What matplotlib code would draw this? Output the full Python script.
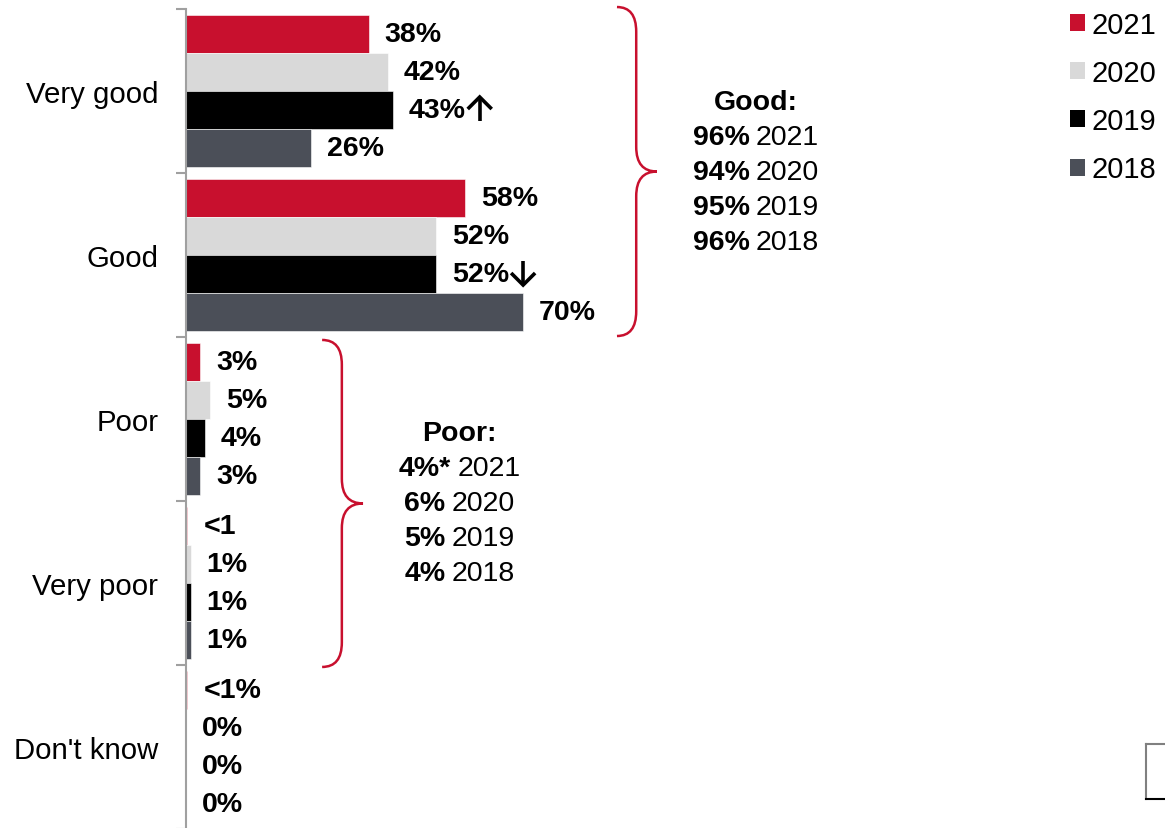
import matplotlib
matplotlib.use("Agg")
import matplotlib.pyplot as plt
from matplotlib.patches import Patch, PathPatch
from matplotlib.path import Path
from matplotlib.lines import Line2D
from matplotlib.transforms import IdentityTransform
from matplotlib.offsetbox import TextArea, HPacker, AnnotationBbox
import numpy as np

plt.rcParams['font.family'] = ['Liberation Sans', 'DejaVu Sans']

categories = ["Very good", "Good", "Poor", "Very poor", "Don't know"]
years = ["2021", "2020", "2019", "2018"]
colors = ["#C8102E", "#D9D9D9", "#000000", "#4B4F58"]

v2021 = [38, 58, 3, 0.3, 0.3]
v2020 = [42, 52, 5, 1, 0]
v2019 = [43, 52, 4, 1, 0]
v2018 = [26, 70, 3, 1, 0]

l2021 = ["38%", "58%", "3%", "<1", "<1%"]
l2020 = ["42%", "52%", "5%", "1%", "0%"]
l2019 = ["43%", "52%", "4%", "1%", "0%"]
l2018 = ["26%", "70%", "3%", "1%", "0%"]
# significance arrows for 2019 (+1 up, -1 down, 0 none)
a2019 = [1, -1, 0, 0, 0]

good_title = "Good:"
good_vals = ["96%", "94%", "95%", "96%"]
poor_title = "Poor:"
poor_vals = ["4%*", "6%", "5%", "4%"]

W, H = 1165, 829
fig = plt.figure(figsize=(W / 100, H / 100), dpi=100)
ax = fig.add_axes([186 / W, -1 / H, (W - 186) / W, 820 / H])

series = [v2021, v2020, v2019, v2018]
labels = [l2021, l2020, l2019, l2018]
arrows = [[0] * 5, [0] * 5, a2019, [0] * 5]
bar_h = 0.232
y = np.arange(len(categories))
FS = 20.5
arrow_texts = []
for j, (vals, labs, arr, col) in enumerate(zip(series, labels, arrows, colors)):
    yy = y + (j - 1.5) * bar_h
    ax.barh(yy, vals, height=bar_h, color=col, edgecolor='white', linewidth=0.4, label=years[j])
    for yi, v, lab, a in zip(yy, vals, labs, arr):
        t = ax.text(v + 3.3, yi, lab, ha='left', va='center', fontsize=FS, fontweight='bold')
        if a:
            arrow_texts.append((t, a))

ax.set_xlim(0, (W - 186) / 4.81)
ax.set_ylim(len(categories) - 0.5, -0.5)

for s in ['top', 'right', 'bottom']:
    ax.spines[s].set_visible(False)
ax.spines['left'].set_color('#A0A0A0')
ax.spines['left'].set_linewidth(1.5)
ax.set_xticks([])
ax.set_yticks(np.arange(len(categories) + 1) - 0.5)
ax.set_yticklabels([])
ax.tick_params(axis='y', which='major', length=7, width=1.5, color='#A0A0A0', direction='out')
ax.set_yticks(y, minor=True)
ax.set_yticklabels(categories, minor=True, fontsize=21.2)
ax.tick_params(axis='y', which='minor', length=0, pad=20)


def brace(x_tip, x_line, x_mid, y_top, y_bot, r):
    ym = (y_top + y_bot) / 2
    verts = [(x_tip, y_top), (x_line, y_top), (x_line, y_top + r),
             (x_line, ym - r),
             (x_line, ym), (x_mid, ym),
             (x_line, ym), (x_line, ym + r),
             (x_line, y_bot - r),
             (x_line, y_bot), (x_tip, y_bot)]
    codes = [Path.MOVETO, Path.CURVE3, Path.CURVE3,
             Path.LINETO,
             Path.CURVE3, Path.CURVE3,
             Path.CURVE3, Path.CURVE3,
             Path.LINETO,
             Path.CURVE3, Path.CURVE3]
    ax.add_patch(PathPatch(Path(verts, codes), fill=False, edgecolor='#C8102E', lw=1.8, clip_on=False))


brace(89.6, 93.6, 97.9, -0.512, 1.494, 0.15)
brace(28.3, 32.4, 36.8, 1.518, 3.512, 0.15)

step = 35 / 164


def block(title, vals, xc, y0):
    ax.text(xc, y0, title, ha='center', va='center', fontsize=FS, fontweight='bold')
    for k, (v, yr) in enumerate(zip(vals, years)):
        yy = y0 + (k + 1) * step
        pack = HPacker(children=[TextArea(v, textprops=dict(fontsize=FS, fontweight='bold')),
                                 TextArea(yr, textprops=dict(fontsize=FS))],
                       align='baseline', pad=0, sep=4.5)
        ab = AnnotationBbox(pack, (xc, yy), xycoords='data', box_alignment=(0.5, 0.5),
                            frameon=False, pad=0, annotation_clip=False)
        ax.add_artist(ab)


block(good_title, good_vals, 118.5, 0.068)
block(poor_title, poor_vals, 56.9, 2.085)

handles = [Patch(facecolor=c, edgecolor='none') for c in colors]
fig.legend(handles, years, loc='upper left', bbox_to_anchor=(1070 / W, 1 - 12 / H),
           frameon=False, fontsize=21, handlelength=0.52, handleheight=0.52,
           handletextpad=0.22, labelspacing=0.69, borderpad=0, borderaxespad=0)

# significance arrows drawn next to their labels (pixel space)
fig.canvas.draw()
for t, a in arrow_texts:
    bb = t.get_window_extent()
    xc = bb.x1 + 14
    yc = (bb.y0 + bb.y1) / 2 + 1
    half = 12
    tip = yc + a * half
    tail = yc - a * half
    fig.add_artist(Line2D([xc, xc], [tail, tip - a * 1.5], color='black', lw=2.6,
                          transform=IdentityTransform(), solid_capstyle='butt'))
    fig.add_artist(Line2D([xc - 12, xc, xc + 12], [tip - a * 12, tip, tip - a * 12], color='black',
                          lw=2.6, transform=IdentityTransform(), solid_joinstyle='miter',
                          solid_capstyle='butt'))

# partial box at bottom right
fig.add_artist(Line2D([1146 / W, 1146 / W], [1 - 745 / H, 1 - 800 / H], color='#808080', lw=1.5, transform=fig.transFigure))
fig.add_artist(Line2D([1146 / W, 1.0], [1 - 745 / H, 1 - 745 / H], color='#808080', lw=1.5, transform=fig.transFigure))
fig.add_artist(Line2D([1146 / W, 1.0], [1 - 800 / H, 1 - 800 / H], color='#000000', lw=1.5, transform=fig.transFigure))

fig.savefig("out.png", dpi=100)
